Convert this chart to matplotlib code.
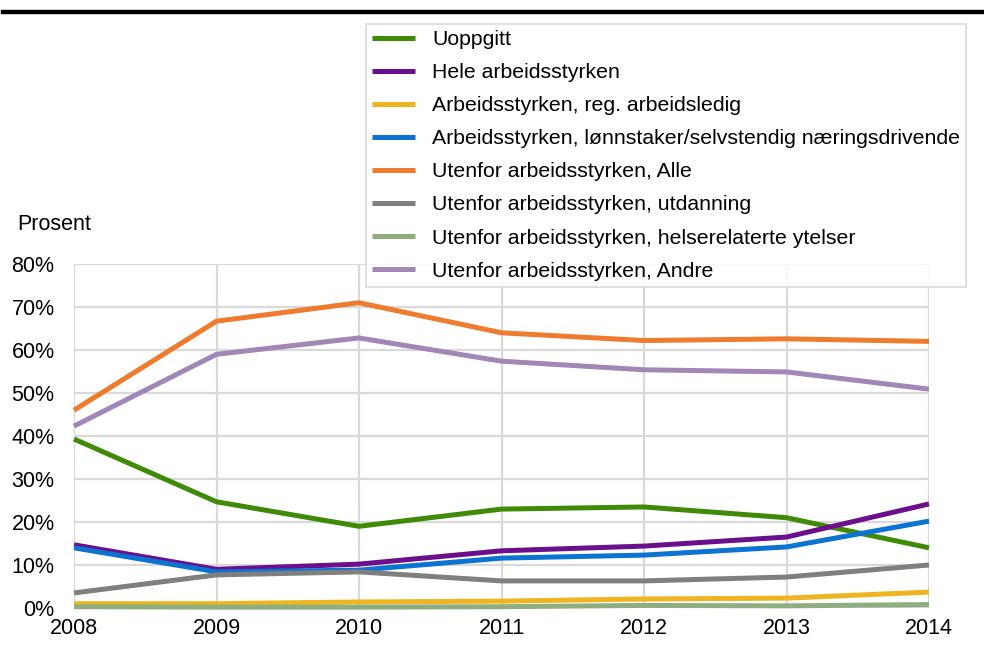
import matplotlib.pyplot as plt
from matplotlib.ticker import PercentFormatter

plt.rcParams['font.family'] = ['Liberation Sans', 'DejaVu Sans']

years = [2008, 2009, 2010, 2011, 2012, 2013, 2014]

uoppgitt = [39.3, 24.7, 19.0, 23.0, 23.5, 21.0, 14.0]
hele = [14.7, 9.0, 10.2, 13.3, 14.4, 16.5, 24.2]
reg_ledig = [1.0, 1.0, 1.4, 1.6, 2.1, 2.3, 3.7]
lonnstaker = [14.0, 8.4, 8.8, 11.6, 12.3, 14.2, 20.2]
utenfor_alle = [46.0, 66.7, 71.0, 64.0, 62.2, 62.6, 62.0]
utdanning = [3.5, 7.7, 8.4, 6.3, 6.3, 7.2, 10.0]
helse = [0.3, 0.2, 0.2, 0.3, 0.6, 0.5, 0.8]
andre = [42.3, 59.0, 62.8, 57.4, 55.4, 54.9, 50.9]

labels = ['Uoppgitt',
          'Hele arbeidsstyrken',
          'Arbeidsstyrken, reg. arbeidsledig',
          'Arbeidsstyrken, lønnstaker/selvstendig næringsdrivende',
          'Utenfor arbeidsstyrken, Alle',
          'Utenfor arbeidsstyrken, utdanning',
          'Utenfor arbeidsstyrken, helserelaterte ytelser',
          'Utenfor arbeidsstyrken, Andre']
series = [uoppgitt, hele, reg_ledig, lonnstaker,
          utenfor_alle, utdanning, helse, andre]
colors = ['#3f8a07', '#6b0f8c', '#efb521', '#0b73d1',
          '#ee7b2e', '#7f7f7f', '#8fae7f', '#a186b7']

fig = plt.figure(figsize=(9.84, 6.52), dpi=100)
ax = fig.add_axes([74 / 984, 1 - 608 / 652, 855 / 984, 344 / 652])

lines = []
for vals, lab, col in zip(series, labels, colors):
    ln, = ax.plot(years, [v / 100 for v in vals], color=col, lw=3.6,
                  label=lab, clip_on=False, solid_capstyle='butt')
    lines.append(ln)

ax.set_xlim(2008, 2014)
ax.set_ylim(0, 0.8)
ax.set_xticks(years)
ax.set_yticks([i / 10 for i in range(9)])
ax.yaxis.set_major_formatter(PercentFormatter(1.0, decimals=0))
ax.tick_params(length=0, labelsize=15.5)
ax.tick_params(axis='y', pad=14)
ax.tick_params(axis='x', pad=7)
ax.grid(True, color='#d9d9d9', lw=1.6)
ax.set_axisbelow(True)
for s in ax.spines.values():
    s.set_visible(False)

fig.text(17 / 984, 1 - 225 / 652, 'Prosent', fontsize=15.5,
         va='center', ha='left')

# thick rule across the top
fig.add_artist(plt.Line2D([3 / 984, 1], [1 - 12 / 652, 1 - 12 / 652],
                          color='black', lw=3.2, transform=fig.transFigure))

leg = fig.legend(handles=lines, loc='upper left',
                 bbox_to_anchor=(366 / 984, 1 - 24 / 652),
                 fontsize=15.3, frameon=True, fancybox=False,
                 handlelength=2.0, handletextpad=0.8, labelspacing=0.66,
                 borderpad=0.3, borderaxespad=0)
leg.get_frame().set_edgecolor('#d9d9d9')
leg.get_frame().set_linewidth(1.5)
for h in leg.get_lines():
    h.set_linewidth(3.6)

plt.savefig('out.png', dpi=100)
